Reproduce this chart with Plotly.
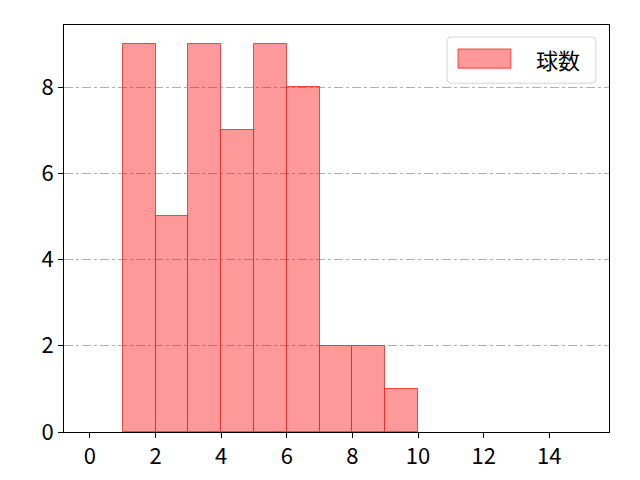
import plotly.graph_objects as go

bin_left = [1, 2, 3, 4, 5, 6, 7, 8, 9]
counts = [9, 5, 9, 7, 9, 8, 2, 2, 1]
series_name = "球数"

centers = [b + 0.5 for b in bin_left]
fill = "rgba(255,0,0,0.4)"
edge = "rgba(230,40,40,0.8)"

fig = go.Figure()
fig.add_trace(go.Bar(
    x=centers, y=counts, width=1, name=series_name,
    marker=dict(color=fill, line=dict(color=edge, width=1)),
))

# legend drawn by hand so the swatch looks like matplotlib's
def rounded_box(x0, y0, x1, y1, rx=0.0073, ry=0.0098):
    return (f"M {x0+rx},{y0} L {x1-rx},{y0} Q {x1},{y0} {x1},{y0+ry} "
            f"L {x1},{y1-ry} Q {x1},{y1} {x1-rx},{y1} L {x0+rx},{y1} "
            f"Q {x0},{y1} {x0},{y1-ry} L {x0},{y0+ry} Q {x0},{y0} {x0+rx},{y0} Z")

fig.add_shape(type="path", xref="paper", yref="paper",
              path=rounded_box(0.703, 0.857, 0.976, 0.9705),
              line=dict(color="#d5d5d5", width=1), fillcolor="rgba(255,255,255,0.8)")
fig.add_shape(type="rect", xref="paper", yref="paper",
              x0=0.723, x1=0.820, y0=0.894, y1=0.941,
              line=dict(color=edge, width=1), fillcolor=fill)
fig.add_annotation(xref="paper", yref="paper", x=0.906, y=0.916, text=series_name,
                   xanchor="center", yanchor="middle",
                   showarrow=False, font=dict(size=22, color="black"))

# page body adds 8px offset, so margins are shifted to compensate
fig.update_layout(
    width=640, height=480,
    margin=dict(l=56, r=39, t=17, b=56, autoexpand=False),
    paper_bgcolor="white", plot_bgcolor="white",
    font=dict(family="Noto Sans CJK JP", size=22, color="black"),
    bargap=0,
    showlegend=False,
)
fig.update_xaxes(range=[-0.79, 15.82], tickvals=[0, 2, 4, 6, 8, 10, 12, 14],
                 showgrid=False, zeroline=False, showline=True, linecolor="black",
                 mirror=True, ticks="outside", ticklen=5, tickcolor="black", automargin=False)
fig.update_yaxes(range=[0, 9.44], tickvals=[0, 2, 4, 6, 8],
                 showgrid=True, gridcolor="#b0b0b0", griddash="dashdot", gridwidth=1,
                 zeroline=False, showline=True, linecolor="black",
                 mirror=True, ticks="outside", ticklen=5, tickcolor="black", automargin=False)

fig.write_html("out.html")
